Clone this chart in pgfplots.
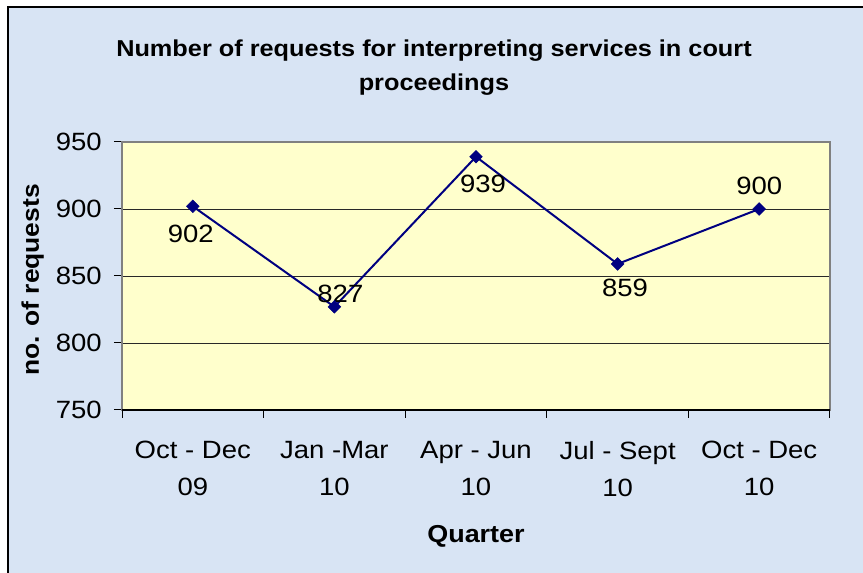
\documentclass[border=0pt]{standalone}
\usepackage{pgfplots}
\pgfplotsset{compat=1.18}
\usepackage{fontspec}
\setmainfont{Liberation Sans}[FakeStretch=1.1]
\definecolor{bgblue}{RGB}{216,228,244}
\definecolor{plotyellow}{RGB}{255,255,204}
\definecolor{navyline}{RGB}{0,0,128}
\definecolor{framegray}{RGB}{128,128,128}
\definecolor{gridgray}{RGB}{40,40,40}
\begin{document}
\begin{tikzpicture}[x=1pt,y=1pt]
\useasboundingbox (0,0) rectangle (863,573);
\fill[white] (0,0) rectangle (863,573);
\fill[bgblue] (8,-20) rectangle (890,566);
\draw[black, line width=1.2pt] (8,-20) -- (8,566) -- (890,566);
\node[anchor=base, inner sep=0pt, font=\fontsize{23}{28}\selectfont\bfseries] at (434,516.3) {Number of requests for interpreting services in court};
\node[anchor=base, inner sep=0pt, font=\fontsize{23}{28}\selectfont\bfseries] at (434,482) {proceedings};
\begin{axis}[
  at={(122pt,163pt)}, anchor=south west,
  width=708pt, height=268pt, scale only axis,
  xmin=-0.5, xmax=4.5, ymin=750, ymax=950,
  xtick={0,1,2,3,4},
  xticklabels={{Oct - Dec\\09},{Jan -Mar\\10},{Apr - Jun\\10},{Jul - Sept\\10},{Oct - Dec\\10}},
  minor xtick={-0.5,0.5,1.5,2.5,3.5,4.5},
  ytick={750,800,850,900,950},
  yticklabels={750,800,850,900,950},
  /pgf/number format/assume math mode=true,
  tick align=outside,
  xtick pos=bottom, ytick pos=left,
  major tick length=8pt, minor tick length=8pt,
  major x tick style={draw=none},
  every tick/.append style={black, line width=1pt},
  axis line style={framegray, line width=1.2pt},
  axis background/.style={fill=plotyellow},
  ymajorgrids, grid style={gridgray, line width=0.9pt},
  xticklabel style={align=center, font=\fontsize{25}{36.7}\selectfont, anchor=north, inner sep=0pt, yshift=-23pt},
  yticklabel style={font=\fontsize{25}{30}\selectfont, anchor=east, inner sep=0pt, xshift=-12pt},
  xlabel={Quarter},
  xlabel style={at={(axis description cs:0.5,-0.496)}, anchor=base, inner sep=0pt, font=\fontsize{24.5}{29}\selectfont\bfseries},
  ylabel={no. of requests},
  ylabel style={at={(axis description cs:-0.126,0.485)}, anchor=center, inner sep=0pt, font=\fontsize{24}{29}\selectfont\bfseries},
  clip=false,
]
\draw[black, line width=1.2pt] (rel axis cs:0,0) -- (rel axis cs:1,0);
\addplot[navyline, line width=2pt, mark=square*, mark size=4.5pt, mark options={rotate=45, fill=navyline, line width=0.5pt}]
  coordinates {(0,902) (1,827) (2,939) (3,859) (4,900)};
\begin{scope}[every node/.style={inner sep=0pt, font=\fontsize{25}{30}\selectfont}]
\node[xshift=-2pt, yshift=-28pt] at (axis cs:0,902) {902};
\node[xshift=6pt, yshift=12.5pt] at (axis cs:1,827) {827};
\node[xshift=7pt, yshift=-27.5pt] at (axis cs:2,939) {939};
\node[xshift=7.5pt, yshift=-24pt] at (axis cs:3,859) {859};
\node[xshift=0pt, yshift=23pt] at (axis cs:4,900) {900};
\end{scope}
\end{axis}
\end{tikzpicture}
\end{document}
